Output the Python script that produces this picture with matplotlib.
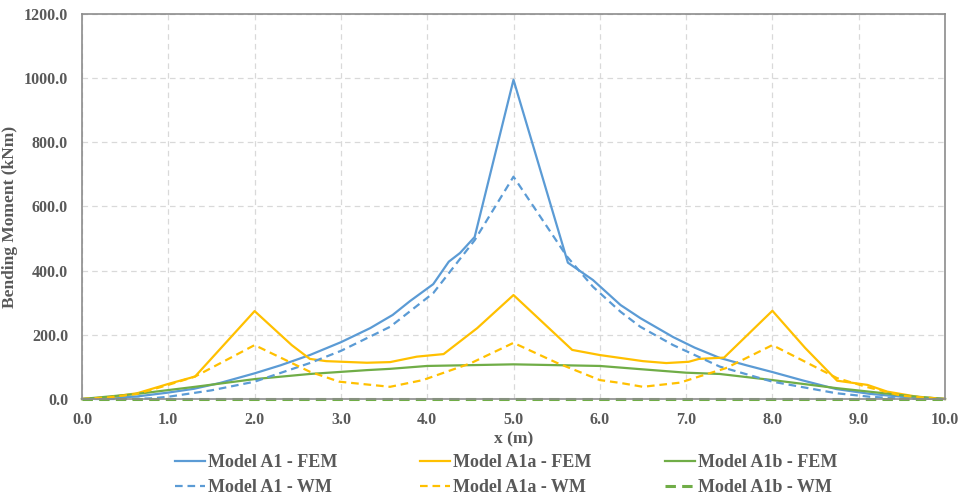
import matplotlib
matplotlib.use("Agg")
import matplotlib.pyplot as plt
from matplotlib.lines import Line2D

plt.rcParams['font.family'] = ['Liberation Serif', 'DejaVu Serif']
plt.rcParams['lines.scale_dashes'] = False

# ---------------- data ----------------
x_a1_fem = [0, 0.3, 0.64, 1.0, 1.3, 1.6, 2.0, 2.3, 2.64, 3.0, 3.34, 3.6, 3.8, 4.07, 4.25,
            4.38, 4.55, 5.0, 5.63, 5.92, 6.24, 6.47, 6.85, 7.1, 7.39, 7.7, 8.0, 8.35, 8.74,
            9.13, 9.5, 10.0]
y_a1_fem = [0, 2, 8, 20, 32, 50, 80, 105, 137, 177, 221, 262, 305, 358, 428,
            455, 505, 995, 425, 371, 293, 252, 193, 160, 128, 105, 84, 58, 31,
            16, 7, 0]

x_a1_wm = [0, 0.5, 0.8, 1.0, 1.5, 2.0, 2.64, 3.0, 3.57, 4.07, 4.55, 5.0, 5.62, 5.92, 6.24,
           6.47, 6.85, 7.39, 8.0, 8.74, 9.13, 9.5, 10.0]
y_a1_wm = [0, 0, 2, 7, 27, 54, 112, 150, 225, 330, 495, 693, 444, 350, 272,
           225, 168, 101, 54, 18, 7, 1, 0]

x_a1a_fem = [0, 0.3, 0.64, 1.0, 1.31, 2.0, 2.43, 2.64, 2.83, 3.3, 3.57, 3.88, 4.19, 4.58,
             5.0, 5.68, 6.0, 6.5, 6.77, 7.03, 7.15, 7.44, 8.0, 8.38, 8.75, 9.1, 9.33, 9.7, 10.0]
y_a1a_fem = [0, 5, 18, 47, 70, 274, 168, 125, 118, 113, 115, 132, 140, 221,
             324, 153, 137, 118, 112, 116, 125, 129, 275, 159, 57, 44, 23, 6, 0]

x_a1a_wm = [0, 0.3, 0.64, 1.0, 1.31, 2.0, 2.64, 2.98, 3.57, 3.95, 4.5, 5.0, 5.5, 6.0, 6.24,
            6.5, 6.93, 7.15, 7.46, 8.0, 8.38, 8.75, 9.1, 9.5, 10.0]
y_a1a_wm = [0, 5, 16, 44, 70, 168, 85, 54, 38, 59, 111, 175, 113, 59, 50,
            38, 51, 70, 96, 168, 116, 65, 37, 10, 0]

x_a1b_fem = [0, 0.64, 1.31, 2.0, 2.64, 3.3, 3.57, 4.0, 5.0, 6.0, 6.47, 7.0, 7.39, 8.0,
             8.74, 9.6, 10.0]
y_a1b_fem = [0, 16, 38, 62, 78, 90, 94, 103, 108, 103, 93, 82, 78, 59,
             34, 9, 0]

x_a1b_wm = [0, 1, 2, 3, 4, 5, 6, 7, 8, 9, 10]
y_a1b_wm = [0, 0, 0, 0, 0, 0, 0, 0, 0, 0, 0]

x_ticks = [0, 1, 2, 3, 4, 5, 6, 7, 8, 9, 10]
y_ticks = [0, 200, 400, 600, 800, 1000, 1200]

labels = ["Model A1 - FEM", "Model A1a - FEM", "Model A1b - FEM",
          "Model A1 - WM", "Model A1a - WM", "Model A1b - WM"]

BLUE = "#5B9BD5"
YELLOW = "#FFC000"
GREEN = "#70AD47"
TXT = "#595959"

fig = plt.figure(figsize=(9.62, 4.99), dpi=100)
ax = fig.add_axes([82/962, 1-399/499, (945-82)/962, (399-14)/499])

dash_small = (5.5, 3.5)
dash_green = (7.5, 4.5)

l1, = ax.plot(x_a1_fem, y_a1_fem, color=BLUE, lw=1.6)
l2, = ax.plot(x_a1a_fem, y_a1a_fem, color=YELLOW, lw=1.6)
l3, = ax.plot(x_a1b_fem, y_a1b_fem, color=GREEN, lw=1.6)
l4, = ax.plot(x_a1_wm, y_a1_wm, color=BLUE, lw=1.6, dashes=dash_small)
l5, = ax.plot(x_a1a_wm, y_a1a_wm, color=YELLOW, lw=1.6, dashes=dash_small)
l6, = ax.plot(x_a1b_wm, y_a1b_wm, color=GREEN, lw=2.2, dashes=dash_green)
for l in (l1, l2, l3, l4, l5, l6):
    l.set_clip_on(False)

ax.set_xlim(0, 10)
ax.set_ylim(0, 1200)
ax.set_xticks(x_ticks)
ax.set_yticks(y_ticks)
ax.set_xticklabels([f"{v:.1f}" for v in x_ticks])
ax.set_yticklabels([f"{v:.1f}" for v in y_ticks])
ax.tick_params(length=0, labelsize=11.5, labelcolor=TXT)
ax.tick_params(axis='y', pad=10)
ax.tick_params(axis='x', pad=9)
for lab in ax.get_xticklabels() + ax.get_yticklabels():
    lab.set_fontweight('bold')

ax.grid(True, color="#D9D9D9", lw=0.9, ls=(0, (4, 3)))
ax.set_axisbelow(True)
for s in ax.spines.values():
    s.set_color("#8C8C8C")
    s.set_linewidth(1.2)

ax.set_ylabel("Bending Moment (kNm)", fontsize=12.5, fontweight='bold', color=TXT)
ax.yaxis.set_label_coords((18 - 82) / 863, (399 - 217) / 385)
ax.set_xlabel("x (m)", fontsize=12.5, fontweight='bold', color=TXT, labelpad=3)

# legend: three columns placed separately
cols = [((l1, l4), (labels[0], labels[3]), 175),
        ((l2, l5), (labels[1], labels[4]), 420),
        ((l3, l6), (labels[2], labels[5]), 665)]
for handles, labs, xpx in cols:
    leg = fig.legend(handles, labs, loc='center left',
                     bbox_to_anchor=(xpx/962, 1-475/499),
                     frameon=False, borderpad=0, borderaxespad=0,
                     handlelength=1.65, handletextpad=0.2, labelspacing=0.45,
                     prop={'size': 13, 'weight': 'bold', 'family': ['Liberation Serif']})
    for t in leg.get_texts():
        t.set_color(TXT)

fig.savefig("out.png", dpi=100)
